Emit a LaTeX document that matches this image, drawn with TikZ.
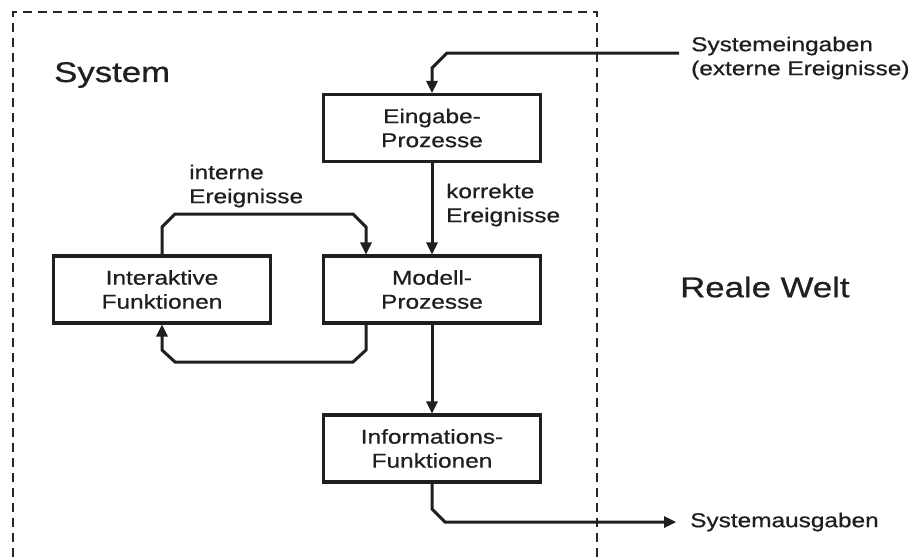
\documentclass[tikz,border=0pt]{standalone}
\usepackage{fontspec}
\setmainfont{Liberation Sans}[FakeStretch=1.22, FakeBold=0.7]
\usepackage{tikz}

\begin{document}
\begin{tikzpicture}[x=1pt,y=1pt]
\tikzstyle{every node}+=[inner sep=0pt, text=black!88]
\tikzstyle{box}=[draw=black!88, line width=3.3pt, minimum width=217pt, minimum height=67pt, align=center, font=\fontsize{20}{24}\selectfont]
\tikzstyle{lbl}=[anchor=west, align=left, font=\fontsize{20}{24}\selectfont]
\tikzstyle{big}=[anchor=west, font=\fontsize{28.5}{32}\selectfont]
\tikzstyle{wire}=[draw=black!88, line width=3pt, shorten >=9pt]
\useasboundingbox (0,0) rectangle (922,-557);
% system border
\draw [black!85, line width=1.3pt, dash pattern=on 9pt off 6pt] (13,-557) -- (13,-12) -- (597,-12) -- (597,-557);
\node [big] (sys) at (54,-75) {System};
\node [big] (welt) at (680,-287) {Reale Welt};
% processes
\node [box] (ein) at (432,-128) {Eingabe-\\Prozesse};
\node [box] (mod) at (432,-289.5) {Modell-\\Prozesse};
\node [box] (inter) at (162,-289.5) {Interaktive\\Funktionen};
\node [box] (info) at (432,-448.5) {Informations-\\Funktionen};
\coordinate (in) at (679,-53);
\coordinate (out) at (676,-522);
% inputs
\draw [wire, shorten >=0pt] (in) -- (447,-53) -- (432,-68) -- ([yshift=8pt]ein.north);
\fill [black!88] (ein.north) -- ++(-6,12) -- ++(12,0) -- cycle;
\node [lbl] (sysin) at (691,-58) {Systemeingaben\\(externe Ereignisse)};
\draw [wire] (ein.south) -- (mod.north);
\fill [black!88] (mod.north) -- ++(-6,12) -- ++(12,0) -- cycle;
\node [lbl] (korr) at (446,-205) {korrekte\\Ereignisse};
% loop between the two middle boxes
\draw [wire] (inter.north) -- (162,-227) -- (175,-214) -- (353,-214) -- (366,-227) -- ([xshift=-66pt]mod.north);
\fill [black!88] ([xshift=-66pt]mod.north) -- ++(-6,12) -- ++(12,0) -- cycle;
\node [lbl] (intern) at (189,-186) {interne\\Ereignisse};
\draw [wire] ([xshift=-66pt]mod.south) -- (366,-350) -- (353,-362) -- (175,-362) -- (162,-350) -- (inter.south);
\fill [black!88] (inter.south) -- ++(-6,-12) -- ++(12,0) -- cycle;
% outputs
\draw [wire] (mod.south) -- (info.north);
\fill [black!88] (info.north) -- ++(-6,12) -- ++(12,0) -- cycle;
\draw [wire] (info.south) -- (432,-509) -- (445,-522) -- (out);
\fill [black!88] (out) -- ++(-12,6) -- ++(0,-12) -- cycle;
\node [lbl] (sysout) at (690,-522) {Systemausgaben};
\end{tikzpicture}
\end{document}
